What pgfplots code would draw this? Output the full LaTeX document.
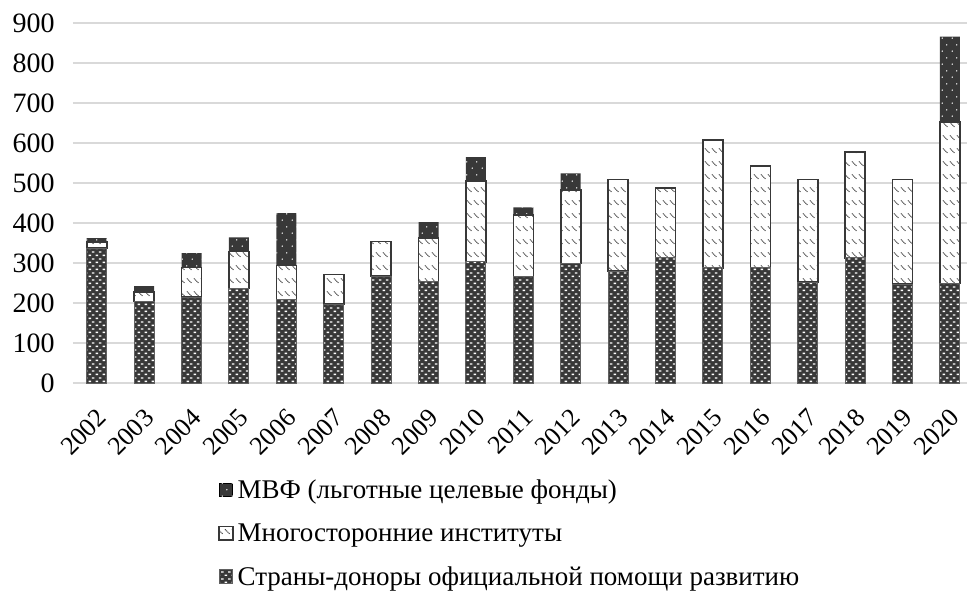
\documentclass[border=0pt]{standalone}
\usepackage{fontspec}
\setmainfont{Liberation Serif}
\usepackage{pgfplots}
\pgfplotsset{compat=1.18}
\usetikzlibrary{patterns}
\definecolor{barDark}{HTML}{383838}
\definecolor{gridc}{HTML}{D9D9D9}
\pgfdeclarepatternformonly{donorbricksA}{\pgfpointorigin}{\pgfpoint{3.4pt}{3.6pt}}{\pgfpoint{3.4pt}{3.6pt}}{%
  \pgfsetlinewidth{0.7pt}%
  \pgfpathmoveto{\pgfpoint{0.3pt}{0.9pt}}\pgfpathlineto{\pgfpoint{1.6pt}{0.9pt}}%
  \pgfpathmoveto{\pgfpoint{2.0pt}{2.7pt}}\pgfpathlineto{\pgfpoint{3.3pt}{2.7pt}}%
  \pgfusepath{stroke}}
\pgfdeclarepatternformonly{multiticksA}{\pgfpointorigin}{\pgfpoint{3.4pt}{6.6pt}}{\pgfpoint{3.4pt}{6.6pt}}{%
  \pgfsetlinewidth{0.5pt}%
  \pgfsetdash{{0.55pt}{0.35pt}}{0pt}%
  \pgfpathmoveto{\pgfpoint{0.5pt}{5.0pt}}\pgfpathlineto{\pgfpoint{2.9pt}{2.6pt}}%
  \pgfusepath{stroke}}
\pgfdeclarepatternformonly{imfdotsA}{\pgfpointorigin}{\pgfpoint{5pt}{6.6pt}}{\pgfpoint{5pt}{6.6pt}}{%
  \pgfpathcircle{\pgfpoint{1.2pt}{1.5pt}}{0.4pt}%
  \pgfpathcircle{\pgfpoint{3.7pt}{4.8pt}}{0.4pt}%
  \pgfusepath{fill}}
\pgfplotstableread{
year donors multi imf
0 337 15 10
1 204 24 14
2 215 74 36
3 236 93 35
4 208 86 131
5 197 74 0
6 267 87 0
7 253 109 40
8 303 202 60
9 266 154 19
10 299 183 42
11 280 229 0
12 313 174 0
13 288 319 0
14 288 255 0
15 252 257 0
16 313 264 0
17 247 262 0
18 249 404 213
}\datatable
\begin{document}
\begin{tikzpicture}
\begin{axis}[
  at={(0,0)}, anchor=south west,
  scale only axis, width=447pt, height=180pt,
  ybar stacked, bar width=10pt,
  xmin=-0.5, xmax=18.36, ymin=0, ymax=900,
  ytick={0,100,...,900},
  xtick={0,...,18},
  xticklabels={2002,2003,2004,2005,2006,2007,2008,2009,2010,2011,2012,2013,2014,2015,2016,2017,2018,2019,2020},
  ymajorgrids, grid style={draw=gridc, line width=0.7pt},
  axis line style={draw=none},
  tick style={draw=none},
  /pgf/number format/assume math mode=true,
  yticklabel style={font=\fontsize{14}{16}\selectfont, inner sep=0pt, xshift=-9pt},
  xticklabel style={font=\fontsize{13}{15}\selectfont, inner sep=0pt, xshift=-0.5pt, yshift=-12pt, rotate=45, anchor=north east},
  reverse legend,
  legend cell align=left,
  legend style={at={(0.1555,-0.246)}, anchor=north west, draw=none, fill=none,
    font=\fontsize{13.5}{16}\selectfont, row sep=7pt,
    /tikz/every even column/.append style={column sep=0pt}},
  legend image code/.code={\draw[#1] (0pt,-3.0pt) rectangle (6.8pt,3.8pt);},
]
\addplot[fill=barDark, draw=barDark!80, line width=0.5pt, postaction={pattern=donorbricksA, pattern color=white}]
  table[x=year, y=donors] {\datatable};
\addlegendentry{Страны-доноры официальной помощи развитию}
\addplot[fill=white, draw=barDark, line width=0.8pt, postaction={pattern=multiticksA, pattern color=barDark}]
  table[x=year, y=multi] {\datatable};
\addlegendentry{Многосторонние институты}
\addplot[fill=barDark, draw=none, postaction={pattern=imfdotsA, pattern color=white}]
  table[x=year, y=imf] {\datatable};
\addlegendentry{МВФ (льготные целевые фонды)}
\end{axis}
\pgfresetboundingbox
\useasboundingbox (-36.5pt,-104pt) rectangle (447pt,191.5pt);
\end{tikzpicture}
\end{document}
